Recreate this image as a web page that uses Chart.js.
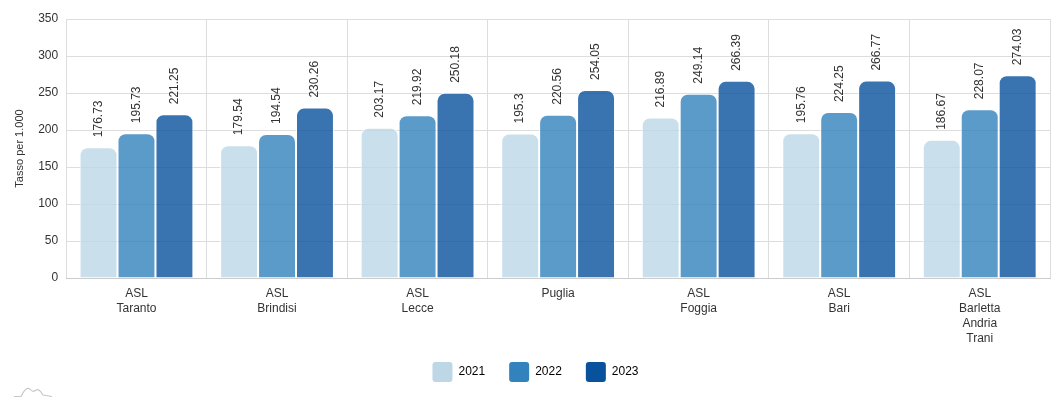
<!DOCTYPE html>
<html>
<head>
<meta charset="utf-8">
<script src="https://cdn.jsdelivr.net/npm/chart.js@4"></script>
<style>
    html, body { margin: 0; padding: 0; background: #fff; }
    #wrap { width: 1052px; height: 402px; }
</style>
</head>
<body>
<div id="wrap"><canvas id="chart"></canvas></div>
<script>
const categories = [
    ['ASL', 'Taranto'],
    ['ASL', 'Brindisi'],
    ['ASL', 'Lecce'],
    ['Puglia'],
    ['ASL', 'Foggia'],
    ['ASL', 'Bari'],
    ['ASL', 'Barletta', 'Andria', 'Trani']
];
const years = ['2021', '2022', '2023'];
const values2021 = [176.73, 179.54, 203.17, 195.3, 216.89, 195.76, 186.67];
const values2022 = [195.73, 194.54, 219.92, 220.56, 249.14, 224.25, 228.07];
const values2023 = [221.25, 230.26, 250.18, 254.05, 266.39, 266.77, 274.03];
const yTicks = [0, 50, 100, 150, 200, 250, 300, 350];

const legendColors = ['#bdd7e7', '#3182bd', '#08519c'];
const barColors = ['rgba(189,215,231,0.8)', 'rgba(49,130,189,0.8)', 'rgba(8,81,156,0.8)'];
const fontFamily = '"Liberation Sans", Arial, sans-serif';

// rotated value labels above each bar
const valueLabels = {
    id: 'valueLabels',
    afterDatasetsDraw(chart) {
        const ctx = chart.ctx;
        ctx.save();
        ctx.font = '12px ' + fontFamily;
        ctx.fillStyle = '#333';
        ctx.textAlign = 'left';
        ctx.textBaseline = 'middle';
        chart.data.datasets.forEach((ds, i) => {
            chart.getDatasetMeta(i).data.forEach((bar, j) => {
                ctx.save();
                ctx.translate(bar.x, bar.y - 10);
                ctx.rotate(-Math.PI / 2);
                ctx.fillText(String(ds.data[j]), 0, 0);
                ctx.restore();
            });
        });
        ctx.restore();
    }
};

// pull the legend closer to the axis labels
const legendShift = {
    id: 'legendShift',
    afterInit(chart) {
        const legend = chart.legend;
        const fit = legend.fit.bind(legend);
        legend.fit = function () { fit(); this.height -= 15; };
    },
    afterLayout(chart) {
        // only move the top, so the clip box still holds the items
        chart.legend.top -= 16;
        chart.legend.left += 12;
    }
};

// faint logo mark bottom left
const logoMark = {
    id: 'logoMark',
    afterDraw(chart) {
        const ctx = chart.ctx;
        ctx.save();
        ctx.strokeStyle = '#c8c8c8';
        ctx.lineWidth = 1.2;
        ctx.beginPath();
        ctx.moveTo(14, 396.5);
        ctx.lineTo(21, 396.5);
        ctx.quadraticCurveTo(26, 386, 30, 389);
        ctx.quadraticCurveTo(33, 393, 36, 390);
        ctx.quadraticCurveTo(39, 388, 43, 395);
        ctx.lineTo(52, 396.5);
        ctx.stroke();
        ctx.restore();
    }
};

const series = [values2021, values2022, values2023];

new Chart(document.getElementById('chart'), {
    type: 'bar',
    data: {
        labels: categories,
        datasets: series.map((vals, i) => ({
            label: years[i],
            data: vals,
            backgroundColor: barColors[i],
            borderColor: '#fff',
            borderWidth: 1,
            borderSkipped: 'bottom',
            borderRadius: { topLeft: 8, topRight: 8 },
            categoryPercentage: 0.81,
            barPercentage: 1
        }))
    },
    options: {
        responsive: true,
        maintainAspectRatio: false,
        animation: false,
        layout: { padding: { top: 19, right: 2, left: 9, bottom: 9 } },
        scales: {
            x: {
                grid: { color: '#ddd', offset: true, drawTicks: false },
                border: { color: '#ccc' },
                ticks: {
                    color: '#333',
                    padding: 8,
                    font: { size: 12, family: fontFamily, lineHeight: 1.25 }
                }
            },
            y: {
                min: 0,
                max: 350,
                afterBuildTicks: (axis) => { axis.ticks = yTicks.map(v => ({ value: v })); },
                grid: { color: '#ddd', drawTicks: false },
                border: { display: false },
                ticks: {
                    color: '#333',
                    padding: 8,
                    font: { size: 12, family: fontFamily }
                },
                title: {
                    display: true,
                    text: 'Tasso per 1.000',
                    color: '#333',
                    font: { size: 11, family: fontFamily }
                }
            }
        },
        plugins: {
            legend: {
                position: 'bottom',
                labels: {
                    boxWidth: 20,
                    boxHeight: 20,
                    padding: 24,
                    color: '#333',
                    font: { size: 12, family: fontFamily },
                    useBorderRadius: true,
                    borderRadius: 3,
                    generateLabels: (chart) => chart.data.datasets.map((ds, i) => ({
                        text: ds.label,
                        fillStyle: legendColors[i],
                        strokeStyle: legendColors[i],
                        lineWidth: 0,
                        borderRadius: 3,
                        datasetIndex: i
                    }))
                }
            },
            tooltip: { enabled: false }
        }
    },
    plugins: [valueLabels, legendShift, logoMark]
});
</script>
</body>
</html>
